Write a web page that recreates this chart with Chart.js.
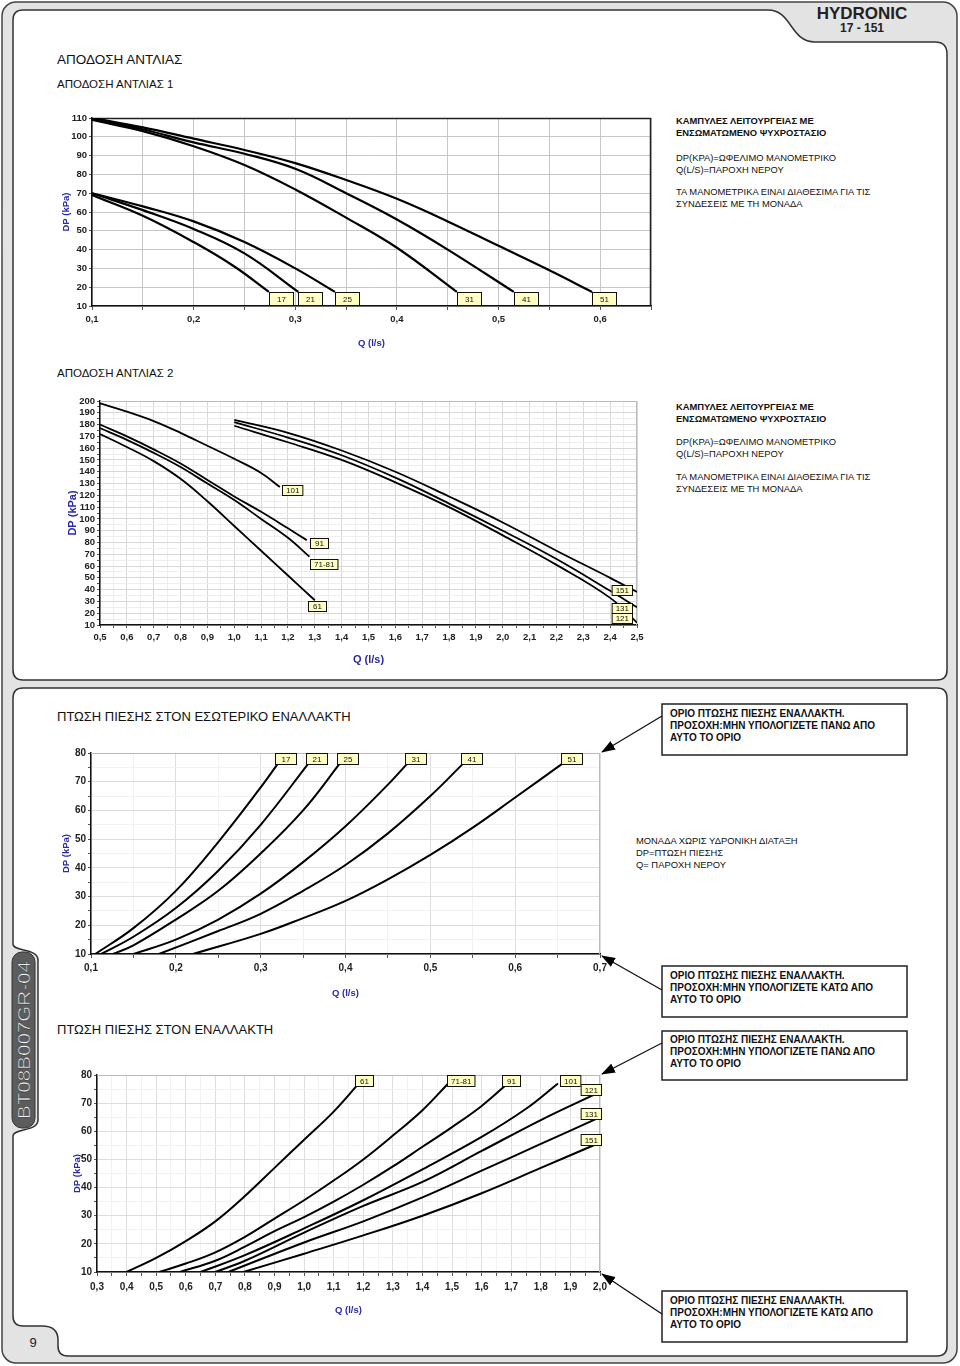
<!DOCTYPE html>
<html>
<head>
<meta charset="utf-8">
<script src="https://cdn.jsdelivr.net/npm/chart.js@4"></script>
<style>
  body { margin: 0; width: 960px; height: 1366px; position: relative; overflow: hidden; background: #fff;
         font-family: "Liberation Sans", Arial, sans-serif; color: #111; }
  svg.bg { position: absolute; left: 0; top: 0; }
  canvas { position: absolute; }
  .t { position: absolute; white-space: nowrap; }
  .note { position: absolute; left: 676px; font-size: 9.4px; line-height: 12px; white-space: nowrap; }
  .note b { display: block; }
  .note p { margin: 0; }
  .callout { position: absolute; left: 670px; font-size: 10px; font-weight: bold; line-height: 12px; white-space: nowrap; }
</style>
</head>
<body>

<svg class="bg" width="960" height="1366">
  <defs>
    <marker id="ah" markerWidth="14" markerHeight="10" refX="13" refY="5" orient="auto" markerUnits="userSpaceOnUse">
      <path d="M0,0 L14,5 L0,10 z" fill="#000"/>
    </marker>
  </defs>
  <rect x="2" y="2" width="955" height="1361" rx="14" fill="#e3e3e3" stroke="#444" stroke-width="1.5"/>
  <path d="M13,20 Q13,10 23,10 L768,10 C792,10 790,42 815,42 L935,42 Q947,42 947,54 L947,670 Q947,680 937,680 L23,680 Q13,680 13,670 Z"
        fill="#fff" stroke="#333" stroke-width="1.5"/>
  <path d="M23,688 L937,688 Q947,688 947,698 L947,1346 Q947,1356 937,1356 L68,1356 Q58,1356 58,1346 L58,1340 C58,1330 52,1326 42,1326 L23,1326 Q13,1326 13,1316 L13,1136 C13,1128 38,1132 38,1120 L38,960 C38,948 13,952 13,944 L13,698 Q13,688 23,688 Z"
        fill="#fff" stroke="#333" stroke-width="1.5"/>
  <rect x="12" y="952" width="23" height="176" rx="10" fill="#5c5c5c" stroke="#333" stroke-width="1"/>
  <text x="0" y="0" transform="translate(30,1040) rotate(-90)" text-anchor="middle" font-family="Liberation Sans, Arial" font-size="17"
        fill="#f2f2f2" stroke="#222" stroke-width="0.4" textLength="158" lengthAdjust="spacingAndGlyphs">BT08B007GR-04</text>
  <text x="33" y="1347" text-anchor="middle" font-family="Liberation Sans, Arial" font-size="13" fill="#222">9</text>
  <text x="862" y="19" text-anchor="middle" font-family="Liberation Sans, Arial" font-size="17" font-weight="bold" fill="#222">HYDRONIC</text>
  <text x="862" y="32" text-anchor="middle" font-family="Liberation Sans, Arial" font-size="12" font-weight="bold" fill="#222">17 - 151</text>

  <rect x="662" y="704" width="245" height="51" fill="#fff" stroke="#222" stroke-width="1.5"/>
  <rect x="662" y="966" width="245" height="51" fill="#fff" stroke="#222" stroke-width="1.5"/>
  <rect x="662" y="1031" width="245" height="49" fill="#fff" stroke="#222" stroke-width="1.5"/>
  <rect x="662" y="1291" width="245" height="51" fill="#fff" stroke="#222" stroke-width="1.5"/>
  <line x1="662" y1="716" x2="602" y2="752" stroke="#111" stroke-width="1.3" marker-end="url(#ah)"/>
  <line x1="662" y1="990" x2="602" y2="956" stroke="#111" stroke-width="1.3" marker-end="url(#ah)"/>
  <line x1="662" y1="1043" x2="602" y2="1074" stroke="#111" stroke-width="1.3" marker-end="url(#ah)"/>
  <line x1="662" y1="1314" x2="602" y2="1274" stroke="#111" stroke-width="1.3" marker-end="url(#ah)"/>
</svg>

<div class="t" style="left:57px;top:52px;font-size:13.5px;">ΑΠΟΔΟΣΗ ΑΝΤΛΙΑΣ</div>
<div class="t" style="left:57px;top:78px;font-size:11.5px;">ΑΠΟΔΟΣΗ ΑΝΤΛΙΑΣ 1</div>
<div class="t" style="left:57px;top:367px;font-size:11.5px;">ΑΠΟΔΟΣΗ ΑΝΤΛΙΑΣ 2</div>
<div class="t" style="left:57px;top:709px;font-size:13px;">ΠΤΩΣΗ ΠΙΕΣΗΣ ΣΤΟΝ ΕΣΩΤΕΡΙΚΟ ΕΝΑΛΛΑΚΤΗ</div>
<div class="t" style="left:57px;top:1022px;font-size:13px;">ΠΤΩΣΗ ΠΙΕΣΗΣ ΣΤΟΝ ΕΝΑΛΛΑΚΤΗ</div>

<div class="note" style="top:115px;">
  <b>ΚΑΜΠΥΛΕΣ ΛΕΙΤΟΥΡΓΕΙΑΣ ΜΕ</b><b>ΕΝΣΩΜΑΤΩΜΕΝΟ ΨΥΧΡΟΣΤΑΣΙΟ</b>
  <p style="margin-top:13px">DP(KPA)=ΩΦΕΛΙΜΟ ΜΑΝΟΜΕΤΡΙΚΟ</p><p>Q(L/S)=ΠΑΡΟΧΗ ΝΕΡΟΥ</p>
  <p style="margin-top:10px">ΤΑ ΜΑΝΟΜΕΤΡΙΚΑ ΕΙΝΑΙ ΔΙΑΘΕΣΙΜΑ ΓΙΑ ΤΙΣ</p><p>ΣΥΝΔΕΣΕΙΣ ΜΕ ΤΗ ΜΟΝΑΔΑ</p>
</div>
<div class="note" style="top:401px;">
  <b>ΚΑΜΠΥΛΕΣ ΛΕΙΤΟΥΡΓΕΙΑΣ ΜΕ</b><b>ΕΝΣΩΜΑΤΩΜΕΝΟ ΨΥΧΡΟΣΤΑΣΙΟ</b>
  <p style="margin-top:11px">DP(KPA)=ΩΦΕΛΙΜΟ ΜΑΝΟΜΕΤΡΙΚΟ</p><p>Q(L/S)=ΠΑΡΟΧΗ ΝΕΡΟΥ</p>
  <p style="margin-top:11px">ΤΑ ΜΑΝΟΜΕΤΡΙΚΑ ΕΙΝΑΙ ΔΙΑΘΕΣΙΜΑ ΓΙΑ ΤΙΣ</p><p>ΣΥΝΔΕΣΕΙΣ ΜΕ ΤΗ ΜΟΝΑΔΑ</p>
</div>
<div class="note" style="left:636px;top:835px;">
  <p>ΜΟΝΑΔΑ ΧΩΡΙΣ ΥΔΡΟΝΙΚΗ ΔΙΑΤΑΞΗ</p><p>DP=ΠΤΩΣΗ ΠΙΕΣΗΣ</p><p>Q= ΠΑΡΟΧΗ ΝΕΡΟΥ</p>
</div>

<div class="callout" style="top:708px;">ΟΡΙΟ ΠΤΩΣΗΣ ΠΙΕΣΗΣ ΕΝΑΛΛΑΚΤΗ.<br>ΠΡΟΣΟΧΗ:ΜΗΝ ΥΠΟΛΟΓΙΖΕΤΕ ΠΑΝΩ ΑΠΟ<br>ΑΥΤΟ ΤΟ ΟΡΙΟ</div>
<div class="callout" style="top:970px;">ΟΡΙΟ ΠΤΩΣΗΣ ΠΙΕΣΗΣ ΕΝΑΛΛΑΚΤΗ.<br>ΠΡΟΣΟΧΗ:ΜΗΝ ΥΠΟΛΟΓΙΖΕΤΕ ΚΑΤΩ ΑΠΟ<br>ΑΥΤΟ ΤΟ ΟΡΙΟ</div>
<div class="callout" style="top:1034px;">ΟΡΙΟ ΠΤΩΣΗΣ ΠΙΕΣΗΣ ΕΝΑΛΛΑΚΤΗ.<br>ΠΡΟΣΟΧΗ:ΜΗΝ ΥΠΟΛΟΓΙΖΕΤΕ ΠΑΝΩ ΑΠΟ<br>ΑΥΤΟ ΤΟ ΟΡΙΟ</div>
<div class="callout" style="top:1295px;">ΟΡΙΟ ΠΤΩΣΗΣ ΠΙΕΣΗΣ ΕΝΑΛΛΑΚΤΗ.<br>ΠΡΟΣΟΧΗ:ΜΗΝ ΥΠΟΛΟΓΙΖΕΤΕ ΚΑΤΩ ΑΠΟ<br>ΑΥΤΟ ΤΟ ΟΡΙΟ</div>

<canvas id="c1"></canvas>
<canvas id="c2"></canvas>
<canvas id="c3"></canvas>
<canvas id="c4"></canvas>

<script>
// Αντλία 1 : Q (l/s) / DP (kPa)
const p1Q = [0.1, 0.65];
const p1DP = [10, 110];
const p1Models = ['17', '21', '25', '31', '41', '51'];
const p1Curves = [
  [[0.1,69],[0.15,58],[0.2,44],[0.24,31],[0.274,17.5]],
  [[0.1,70],[0.15,61],[0.2,51],[0.25,38],[0.303,17.5]],
  [[0.1,70],[0.15,63],[0.2,55],[0.25,44],[0.3,30],[0.339,17.5]],
  [[0.1,109],[0.15,103],[0.2,95],[0.25,85],[0.3,72],[0.35,57],[0.4,41],[0.459,17.5]],
  [[0.1,110],[0.15,104],[0.2,97],[0.25,91],[0.3,83],[0.35,70],[0.4,56],[0.45,40],[0.515,17.5]],
  [[0.1,110],[0.15,105],[0.2,99],[0.25,93],[0.3,86],[0.35,77],[0.4,67],[0.45,55],[0.5,42],[0.55,29],[0.592,17.5]]
];

// Αντλία 2
const p2Q = [0.5, 2.5];
const p2DP = [10, 200];
const p2Models = ['101', '91', '71-81', '61', '151', '131', '121'];
const p2Curves = [
  [[0.5,198],[0.6,191],[0.7,183],[0.8,173],[0.9,162],[1.0,151],[1.1,139],[1.17,127]],
  [[0.5,180],[0.6,170],[0.7,159],[0.8,147],[0.9,133],[1.0,119],[1.1,106],[1.2,92],[1.27,82]],
  [[0.5,177],[0.6,167],[0.7,156],[0.8,144],[0.9,130],[1.0,116],[1.1,100],[1.2,84],[1.28,68]],
  [[0.5,172],[0.6,161],[0.7,149],[0.8,134],[0.9,115],[1.0,94],[1.1,73],[1.2,52],[1.3,31]],
  [[1.0,184],[1.2,173],[1.4,158],[1.6,140],[1.8,119],[2.0,97],[2.2,73],[2.4,50],[2.5,38]],
  [[1.0,182],[1.2,169],[1.4,154],[1.6,135],[1.8,113],[2.0,90],[2.2,66],[2.4,39],[2.5,25]],
  [[1.0,179],[1.2,165],[1.4,150],[1.6,131],[1.8,110],[2.0,86],[2.2,61],[2.4,33],[2.5,12]]
];

// Πτώση πίεσης στον εσωτερικό εναλλάκτη
const e1Q = [0.1, 0.7];
const e1DP = [10, 80];
const e1Models = ['17', '21', '25', '31', '41', '51'];
const e1Curves = [
  [[0.105,10],[0.15,19],[0.2,32],[0.25,49],[0.3,68],[0.322,77]],
  [[0.112,10],[0.15,16],[0.2,26],[0.25,39],[0.3,55],[0.358,77]],
  [[0.126,10],[0.15,13],[0.2,22],[0.25,32],[0.3,45],[0.35,60],[0.395,77]],
  [[0.15,10],[0.2,15],[0.25,22],[0.3,31],[0.35,42],[0.4,54.5],[0.45,69],[0.475,77]],
  [[0.18,10],[0.25,18],[0.3,24],[0.35,32],[0.4,41],[0.45,52],[0.5,65],[0.541,77]],
  [[0.22,10],[0.3,17],[0.35,22.5],[0.4,28.5],[0.45,36],[0.5,44.5],[0.55,54],[0.6,64.5],[0.659,77]]
];

// Πτώση πίεσης στον εναλλάκτη
const e2Q = [0.3, 2.0];
const e2DP = [10, 80];
const e2Models = ['61', '71-81', '91', '101', '121', '131', '151'];
const e2Curves = [
  [[0.4,10],[0.5,15],[0.6,21],[0.7,28],[0.8,37],[0.9,47],[1.0,57],[1.1,67],[1.185,77]],
  [[0.51,10],[0.6,13],[0.7,17],[0.8,22.5],[0.9,29],[1.0,35.5],[1.1,42.5],[1.2,50],[1.3,58.5],[1.4,67.5],[1.487,77]],
  [[0.58,10],[0.7,14],[0.8,19],[0.9,24.5],[1.0,29.5],[1.1,35],[1.2,41],[1.3,47.5],[1.4,54.5],[1.5,61.5],[1.6,69],[1.688,77]],
  [[0.65,10],[0.8,16],[1.0,25.5],[1.2,35.5],[1.4,46.5],[1.6,58],[1.75,68],[1.858,77]],
  [[0.7,10],[0.8,14],[1.0,24],[1.2,33.5],[1.4,42],[1.6,53],[1.8,64],[2.0,74]],
  [[0.744,10],[1.0,20.5],[1.2,28],[1.4,36.5],[1.6,46],[1.8,55.5],[2.0,65]],
  [[0.795,10],[1.0,16.5],[1.2,23],[1.4,30],[1.6,38],[1.8,47],[2.0,56]]
];

const FONT = '"Liberation Sans", Arial, sans-serif';
const BLUE = '#2a2aa8';
const fmt = v => v.toFixed(1).replace('.', ',');
const onStep = (v, s) => Math.abs(v / s - Math.round(v / s)) < 1e-6;

// top and right edge of the plot
const framePlugin = {
  id: 'frame',
  beforeDatasetsDraw(chart, args, opts) {
    const { ctx, chartArea: a } = chart;
    ctx.save();
    ctx.strokeStyle = opts.color;
    ctx.lineWidth = opts.width;
    ctx.beginPath();
    ctx.moveTo(a.left, a.top + 0.5);
    ctx.lineTo(a.right - 0.5, a.top + 0.5);
    ctx.lineTo(a.right - 0.5, a.bottom);
    ctx.stroke();
    ctx.restore();
  }
};

// yellow model tags at the end of each curve
const tagPlugin = {
  id: 'tags',
  afterDatasetsDraw(chart, args, opts) {
    const { ctx } = chart;
    ctx.save();
    ctx.font = opts.font;
    (opts.items || []).forEach(it => {
      const meta = chart.getDatasetMeta(it.ds);
      const pt = meta.data[meta.data.length - 1];
      const text = chart.data.datasets[it.ds].label;
      const w = Math.max(opts.w, ctx.measureText(text).width + 8);
      const h = opts.h;
      let x = Math.round(pt.x + (it.dx || 0));
      if (it.align === 'right') x -= w;
      const y = Math.round(pt.y + (it.dy || 0));
      ctx.fillStyle = '#ffffc4';
      ctx.fillRect(x, y, w, h);
      ctx.strokeStyle = '#111';
      ctx.lineWidth = 1;
      ctx.strokeRect(x + 0.5, y + 0.5, w - 1, h - 1);
      ctx.fillStyle = '#111';
      ctx.textAlign = 'center';
      ctx.textBaseline = 'middle';
      ctx.fillText(text, x + w / 2, y + h / 2 + 0.5);
    });
    ctx.restore();
  }
};

function buildChart(id, box, spec) {
  const cv = document.getElementById(id);
  const w = box.r - box.l + box.ml + box.mr;
  const h = box.b - box.t + box.mt + box.mb;
  cv.style.left = (box.l - box.ml) + 'px';
  cv.style.top = (box.t - box.mt) + 'px';
  cv.style.width = w + 'px';
  cv.style.height = h + 'px';
  cv.width = w;
  cv.height = h;

  const datasets = spec.curves.map((pts, i) => ({
    label: spec.names[i],
    data: pts.map(p => ({ x: p[0], y: p[1] })),
    borderColor: '#000',
    borderWidth: spec.lineWidth,
    pointRadius: 0,
    fill: false,
    tension: 0.4
  }));

  const tickFont = { family: FONT, size: spec.tickSize, weight: 'bold' };
  const titleFont = { family: FONT, size: spec.titleSize, weight: 'bold' };
  const titlePad = 8 - spec.titleSize * 0.6;
  const gridColor = (step) => ctx => onStep(ctx.tick.value, step) ? spec.gridMajor : spec.gridMinor;

  return new Chart(cv, {
    type: 'line',
    data: { datasets },
    options: {
      responsive: false,
      animation: false,
      devicePixelRatio: 1,
      layout: { padding: { left: 0, top: box.mt, right: box.mr, bottom: 0 } },
      plugins: {
        legend: { display: false },
        tooltip: { enabled: false },
        frame: { color: spec.frameColor, width: spec.frameWidth },
        tags: spec.tags
      },
      scales: {
        x: {
          type: 'linear',
          min: spec.x.min, max: spec.x.max,
          ticks: {
            stepSize: spec.x.step, autoSkip: false, maxRotation: 0, padding: spec.x.pad,
            font: tickFont, color: '#222',
            callback: v => onStep(v, spec.x.label) ? fmt(v) : ''
          },
          grid: { color: gridColor(spec.x.label), tickLength: spec.x.tick, tickColor: '#555' },
          border: { display: true, color: '#111', width: 1.5 },
          title: { display: true, text: 'Q (l/s)', color: BLUE, font: titleFont, padding: { top: 0, bottom: titlePad } },
          afterFit: s => { s.height = box.mb; }
        },
        y: {
          type: 'linear',
          min: spec.y.min, max: spec.y.max,
          ticks: {
            stepSize: spec.y.step, autoSkip: false, padding: 2,
            font: tickFont, color: '#222',
            callback: v => onStep(v, spec.y.label) ? String(Math.round(v)) : ''
          },
          grid: { color: gridColor(spec.y.label), tickLength: 3, tickColor: '#555' },
          border: { display: true, color: '#111', width: 1.5 },
          title: { display: true, text: 'DP (kPa)', color: BLUE, font: titleFont, padding: { top: titlePad - (spec.yTitleShift || 0), bottom: 0 } },
          afterFit: s => { s.width = box.ml; }
        }
      }
    },
    plugins: [framePlugin, tagPlugin]
  });
}

// Αντλία 1
buildChart('c1', { l: 92, t: 118, r: 651, b: 306, ml: 34, mt: 10, mr: 12, mb: 45 }, {
  names: p1Models, curves: p1Curves, lineWidth: 2.2,
  tickSize: 9.5, titleSize: 9.5,
  gridMajor: '#c6c6c6', gridMinor: '#c6c6c6',
  frameColor: '#222', frameWidth: 1.5,
  x: { min: p1Q[0], max: p1Q[1], step: 0.05, label: 0.1, tick: 4, pad: 4 },
  y: { min: p1DP[0], max: p1DP[1], step: 10, label: 10 },
  tags: {
    font: '8px ' + FONT, w: 25, h: 14,
    items: [0, 1, 2, 3, 4, 5].map(i => ({ ds: i, dx: 0, dy: 0 }))
  }
});

// Αντλία 2
buildChart('c2', { l: 100, t: 401, r: 637, b: 625, ml: 33, mt: 10, mr: 15, mb: 43 }, {
  names: p2Models, curves: p2Curves, lineWidth: 1.8,
  tickSize: 9.5, titleSize: 11, yTitleShift: 2,
  gridMajor: '#d8d8d8', gridMinor: '#eeeeee',
  frameColor: '#bbbbbb', frameWidth: 1,
  x: { min: p2Q[0], max: p2Q[1], step: 0.05, label: 0.1, tick: 3, pad: 4 },
  y: { min: p2DP[0], max: p2DP[1], step: 5, label: 10 },
  tags: {
    font: '8px ' + FONT, w: 19, h: 11,
    items: [
      { ds: 0, dx: 2, dy: -2 },
      { ds: 1, dx: 3, dy: -2 },
      { ds: 2, dx: 1, dy: 2 },
      { ds: 3, dx: -7, dy: 1 },
      { ds: 4, dx: -4, dy: -7, align: 'right' },
      { ds: 5, dx: -4, dy: -4, align: 'right' },
      { ds: 6, dx: -4, dy: -10, align: 'right' }
    ]
  }
});

// Εσωτερικός εναλλάκτης
buildChart('c3', { l: 91, t: 753, r: 600, b: 954, ml: 33, mt: 10, mr: 15, mb: 47 }, {
  names: e1Models, curves: e1Curves, lineWidth: 2,
  tickSize: 10, titleSize: 9.5,
  gridMajor: '#dddddd', gridMinor: '#f1f1f1',
  frameColor: '#bbbbbb', frameWidth: 1,
  x: { min: e1Q[0], max: e1Q[1], step: 0.05, label: 0.1, tick: 4, pad: 4 },
  y: { min: e1DP[0], max: e1DP[1], step: 5, label: 10 },
  tags: {
    font: '8px ' + FONT, w: 22, h: 12,
    items: [0, 1, 2, 3, 4, 5].map(i => ({ ds: i, dx: -4, dy: -9 }))
  }
});

// Εναλλάκτης
buildChart('c4', { l: 97, t: 1075, r: 600, b: 1272, ml: 28, mt: 10, mr: 15, mb: 46 }, {
  names: e2Models, curves: e2Curves, lineWidth: 2,
  tickSize: 10, titleSize: 9.5,
  gridMajor: '#dddddd', gridMinor: '#f1f1f1',
  frameColor: '#bbbbbb', frameWidth: 1,
  x: { min: e2Q[0], max: e2Q[1], step: 0.05, label: 0.1, tick: 4, pad: 5 },
  y: { min: e2DP[0], max: e2DP[1], step: 5, label: 10 },
  tags: {
    font: '8px ' + FONT, w: 19, h: 12,
    items: [
      { ds: 0, dx: -4, dy: -8 },
      { ds: 1, dx: -1, dy: -8 },
      { ds: 2, dx: -6, dy: -8 },
      { ds: 3, dx: 2, dy: -8 },
      { ds: 4, dx: 2, dy: -8, align: 'right' },
      { ds: 5, dx: 2, dy: -9, align: 'right' },
      { ds: 6, dx: 2, dy: -9, align: 'right' }
    ]
  }
});
</script>
</body>
</html>
